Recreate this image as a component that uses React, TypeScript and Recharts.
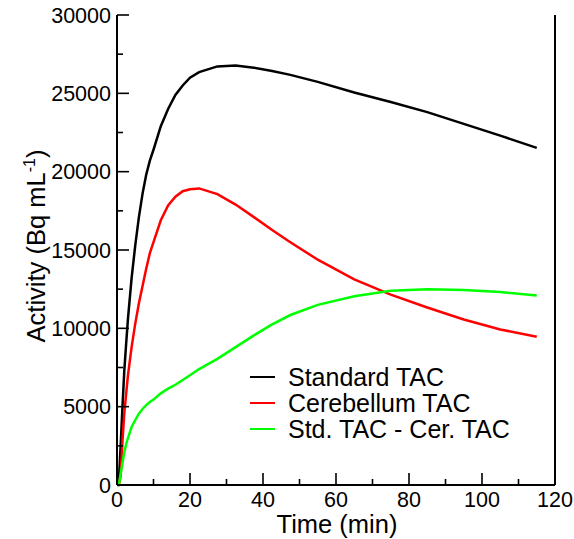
import React from 'react';
import { LineChart, Line, XAxis, YAxis, Legend } from 'recharts';

const times = [0, 0.5, 1, 1.5, 2, 2.5, 3, 4, 5, 6, 7, 8, 9, 10, 12, 14, 16, 18, 20, 22.5, 27.5, 32.5, 37.5, 42.5, 47.5, 55, 65, 75, 85, 95, 105, 115];
const standardTAC = [0, 200, 2500, 5000, 7300, 9000, 10600, 13200, 15300, 17100, 18600, 19800, 20700, 21400, 22900, 24000, 24900, 25500, 26000, 26350, 26720, 26780, 26640, 26430, 26180, 25730, 25050, 24450, 23800, 23050, 22300, 21520];
const cerebellumTAC = [0, 0, 600, 2800, 4600, 5800, 7000, 8800, 10300, 11600, 12700, 13800, 14800, 15500, 16900, 17850, 18400, 18750, 18880, 18930, 18570, 17900, 17100, 16280, 15500, 14380, 13120, 12150, 11330, 10560, 9930, 9460];
const differenceTAC = [0, 0, 700, 1400, 2100, 2600, 3000, 3700, 4150, 4550, 4850, 5100, 5300, 5450, 5850, 6150, 6400, 6700, 7000, 7400, 8050, 8800, 9550, 10250, 10850, 11500, 12050, 12400, 12500, 12450, 12320, 12100];

const seriesNames = ['Standard TAC', 'Cerebellum TAC', 'Std. TAC - Cer. TAC'];
const seriesColors = ['#000000', '#ff0000', '#00ff00'];

const xTicks = [0, 10, 20, 30, 40, 50, 60, 70, 80, 90, 100, 110, 120];
const xLabeledTicks = [0, 20, 40, 60, 80, 100, 120];
const yTicks = [0, 2500, 5000, 7500, 10000, 12500, 15000, 17500, 20000, 22500, 25000, 27500, 30000];
const yLabeledTicks = [0, 5000, 10000, 15000, 20000, 25000, 30000];

const data = times.map((t, i) => ({
  t,
  std: standardTAC[i],
  cer: cerebellumTAC[i],
  diff: differenceTAC[i],
}));

const FONT = '"Liberation Sans", Arial, Helvetica, sans-serif';
const MAJOR = 12;
const MINOR = 6;
const TICK_W = 1.6;

const BottomTick = (props: any) => {
  const { x, y, payload } = props;
  const v = payload.value;
  const major = xLabeledTicks.includes(v);
  return (
    <g>
      <line x1={x} x2={x} y1={y} y2={y - (major ? MAJOR : MINOR)} stroke="#000" strokeWidth={TICK_W} />
      {major && (
        <text x={x} y={y + 22} textAnchor="middle" fontFamily={FONT} fontSize={21.5} fill="#000">
          {v}
        </text>
      )}
    </g>
  );
};

const TopTick = (props: any) => {
  const { x, y, payload } = props;
  const major = xLabeledTicks.includes(payload.value);
  return <line x1={x} x2={x} y1={y} y2={y + (major ? MAJOR : MINOR)} stroke="#000" strokeWidth={TICK_W} />;
};

const LeftTick = (props: any) => {
  const { x, y, payload } = props;
  const v = payload.value;
  const major = yLabeledTicks.includes(v);
  return (
    <g>
      <line x1={x} x2={x + (major ? MAJOR : MINOR)} y1={y} y2={y} stroke="#000" strokeWidth={TICK_W} />
      {major && (
        <text x={x - 6} y={y} dy="0.36em" textAnchor="end" fontFamily={FONT} fontSize={21.5} fill="#000">
          {v}
        </text>
      )}
    </g>
  );
};

const RightTick = (props: any) => {
  const { x, y, payload } = props;
  const major = yLabeledTicks.includes(payload.value);
  return <line x1={x} x2={x - (major ? MAJOR : MINOR)} y1={y} y2={y} stroke="#000" strokeWidth={TICK_W} />;
};

const XTitle = (props: any) => {
  const vb = props.viewBox || {};
  return (
    <text x={vb.x + vb.width / 2 + 1} y={533} textAnchor="middle" fontFamily={FONT} fontSize={25.5} fill="#000">
      Time (min)
    </text>
  );
};

const YTitle = () => {
  const cx = 45;
  const cy = 246;
  return (
    <text
      x={cx}
      y={cy}
      transform={`rotate(-90 ${cx} ${cy})`}
      textAnchor="middle"
      fontFamily={FONT}
      fontSize={25.5}
      fill="#000"
    >
      Activity (Bq mL
      <tspan fontSize={16} dy={-10}>-1</tspan>
      <tspan fontSize={25.5} dy={10}>)</tspan>
    </text>
  );
};

const LegendContent = () => {
  return (
    <div style={{ fontFamily: FONT }}>
      {seriesNames.map((name, i) => (
        <div key={name} style={{ display: 'flex', alignItems: 'center', height: 26 }}>
          <span style={{ display: 'inline-block', width: 25, height: 2.5, background: seriesColors[i] }} />
          <span style={{ marginLeft: 13, fontSize: 25, lineHeight: '26px', color: '#000', whiteSpace: 'nowrap' }}>
            {name}
          </span>
        </div>
      ))}
    </div>
  );
};

export default function App() {
  return (
    <div style={{ position: 'absolute', left: 0, top: 0, width: 574, height: 539, background: '#fff' }}>
      <LineChart width={574} height={539} data={data} margin={{ top: 15, right: 9, bottom: 24, left: 57 }}>
        <XAxis
          xAxisId="b"
          dataKey="t"
          type="number"
          domain={[0, 120]}
          ticks={xTicks}
          interval={0}
          height={30}
          tickSize={0}
          tickMargin={0}
          tickLine={false}
          tick={<BottomTick />}
          axisLine={{ stroke: '#000', strokeWidth: 2 }}
          label={<XTitle />}
        />
        <XAxis
          xAxisId="t"
          orientation="top"
          dataKey="t"
          type="number"
          domain={[0, 120]}
          ticks={xTicks}
          interval={0}
          height={0}
          tickSize={0}
          tickMargin={0}
          tickLine={false}
          tick={<TopTick />}
          axisLine={{ stroke: '#000', strokeWidth: 2 }}
        />
        <YAxis
          yAxisId="l"
          type="number"
          domain={[0, 30000]}
          ticks={yTicks}
          interval={0}
          width={60}
          tickSize={0}
          tickMargin={0}
          tickLine={false}
          tick={<LeftTick />}
          axisLine={{ stroke: '#000', strokeWidth: 2 }}
          label={<YTitle />}
        />
        <YAxis
          yAxisId="r"
          orientation="right"
          type="number"
          domain={[0, 30000]}
          ticks={yTicks}
          interval={0}
          width={10}
          tickSize={0}
          tickMargin={0}
          tickLine={false}
          tick={<RightTick />}
          axisLine={{ stroke: '#000', strokeWidth: 2 }}
        />
        <Line xAxisId="b" yAxisId="l" type="linear" dataKey="std" name={seriesNames[0]} stroke={seriesColors[0]} strokeWidth={2.5} dot={false} isAnimationActive={false} />
        <Line xAxisId="b" yAxisId="l" type="linear" dataKey="cer" name={seriesNames[1]} stroke={seriesColors[1]} strokeWidth={2.5} dot={false} isAnimationActive={false} />
        <Line xAxisId="b" yAxisId="l" type="linear" dataKey="diff" name={seriesNames[2]} stroke={seriesColors[2]} strokeWidth={2.5} dot={false} isAnimationActive={false} />
        <Legend
          layout="vertical"
          align="center"
          verticalAlign="middle"
          content={<LegendContent />}
          wrapperStyle={{ left: 250, top: 364, width: 300, height: 80 }}
        />
      </LineChart>
    </div>
  );
}
